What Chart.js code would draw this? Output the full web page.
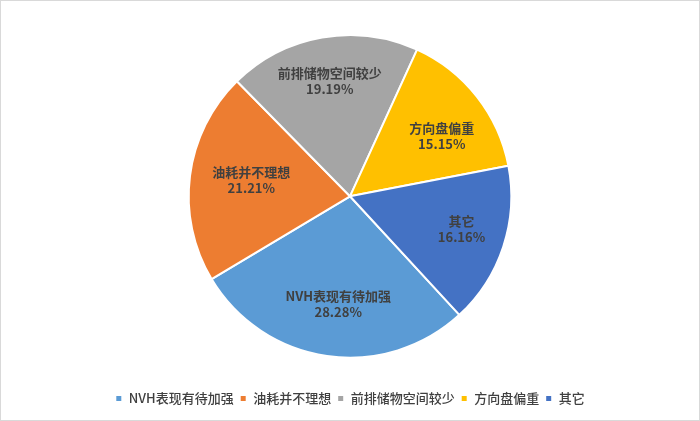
<!DOCTYPE html>
<html><head><meta charset="utf-8">
<script src="https://cdn.jsdelivr.net/npm/chart.js@4"></script>
<style>
html,body{margin:0;padding:0;background:#fff;}
#wrap{width:700px;height:421px;box-sizing:border-box;border:1px solid #d9d9d9;position:relative;}
canvas{display:block;}
</style></head>
<body>
<div id="wrap"><canvas id="c" width="698" height="419"></canvas></div>
<script>
const categories = ['NVH表现有待加强','油耗并不理想','前排储物空间较少','方向盘偏重','其它'];
const values = [28.28, 21.21, 19.19, 15.15, 16.16];
const colors = ['#5B9BD5','#ED7D31','#A5A5A5','#FFC000','#4472C4'];
const FONT = '"Noto Sans CJK SC","Noto Sans",sans-serif';

// label placement (fraction of radius, angle tweak in degrees) per slice
const labelRadius = [0.675, 0.62, 0.725, 0.68, 0.72];
const labelAngle = [-2, 2, 0, 5, -2];

const labelPlugin = {
  id:'sliceLabels',
  afterDatasetsDraw(chart){
    const ctx = chart.ctx;
    const meta = chart.getDatasetMeta(0);
    ctx.save();
    ctx.fillStyle = '#404040';
    ctx.font = 'bold 13px ' + FONT;
    ctx.textAlign = 'center';
    ctx.textBaseline = 'middle';
    meta.data.forEach((arc,i)=>{
      const p = arc.getProps(['x','y','startAngle','endAngle','outerRadius'],true);
      const mid = (p.startAngle + p.endAngle)/2 + labelAngle[i]*Math.PI/180;
      const r = p.outerRadius*labelRadius[i];
      const x = p.x + Math.cos(mid)*r;
      const y = p.y + Math.sin(mid)*r;
      ctx.fillText(categories[i], x, y-8);
      ctx.fillText(values[i].toFixed(2)+'%', x, y+8);
    });
    ctx.restore();
  }
};

new Chart(document.getElementById('c'),{
  type:'pie',
  data:{labels:categories,datasets:[{data:values,backgroundColor:colors,borderColor:'#ffffff',borderWidth:2}]},
  options:{
    responsive:false,animation:false,
    rotation:137.3,
    layout:{padding:{top:33,bottom:5}},
    plugins:{
      tooltip:{enabled:false},
      legend:{position:'bottom',
        title:{display:true,text:'',font:{size:2},padding:{top:25,bottom:0}},
        labels:{boxWidth:7,boxHeight:7,padding:6,color:'#404040',font:{family:FONT,size:13,weight:'500'}}}
    }
  },
  plugins:[labelPlugin]
});
</script>
</body></html>
